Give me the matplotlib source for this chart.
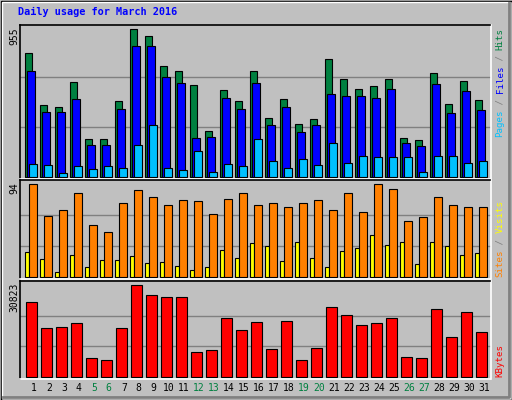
import matplotlib
matplotlib.use("Agg")
import matplotlib.pyplot as plt
from matplotlib.patches import Rectangle

days = list(range(1, 32))
hits = [785,454,441,601,238,238,480,938,893,702,671,581,289,550,480,671,371,492,333,365,747,620,556,575,620,244,231,658,460,607,486]
files = [671,410,410,492,199,199,429,830,830,632,594,244,250,499,429,594,327,441,282,327,524,511,511,499,556,212,193,588,403,543,422]
pages = [79,72,21,66,47,66,53,199,327,53,40,161,28,79,66,238,98,53,110,72,212,85,129,123,123,123,28,129,129,85,98]
visits = [94,62,68,85,53,46,75,88,81,73,78,77,64,79,85,73,75,71,75,78,68,85,66,94,89,57,61,81,73,71,71]
sites = [25,18,5,22,10,17,17,21,14,15,11,7,10,27,19,34,31,16,35,19,10,26,29,42,32,35,13,35,31,22,24]
kbytes = [25088,16313,16650,18000,6188,5513,16313,30823,27450,26775,26775,8213,8888,19688,15638,18338,9225,18675,5513,9563,23400,20700,17325,18000,19688,6525,6188,22725,13275,21713,14963]
weekend = [5,6,12,13,19,20,26,27]
max_hits, max_visits, max_kb = 955, 94, 30823
title = "Daily usage for March 2016"

W, H = 512, 400
BG = "#c0c0c0"
fig = plt.figure(figsize=(W/100, H/100), dpi=100, facecolor=BG)
MONO = "DejaVu Sans Mono"

def ax_px(x0, y0, x1, y1):
    return fig.add_axes([x0/W, 1-y1/H, (x1-x0)/W, (y1-y0)/H])

# outer border
bg = fig.add_axes([0, 0, 1, 1]); bg.set_xlim(0, W); bg.set_ylim(H, 0); bg.axis("off")
bg.add_patch(Rectangle((0.5, 0.5), W-1, H-1, fill=False, ec="black", lw=1))
bg.add_patch(Rectangle((1.5, 1.5), W-4, H-4, fill=False, ec="white", lw=1))
bg.plot([W-3, W-3, 3], [3, H-3, H-3], color="#808080", lw=2)

panels = [(25, 179, 176.7, 150.0), (180, 279, 276.7, 92.3), (281, 379, 376.7, 91.3)]
x0, x1 = 20, 490.5

def make(p, vmax):
    top, bot, base, hgt = p
    ax = ax_px(x0, top, x1, bot)
    ax.set_facecolor(BG)
    scale = vmax / hgt
    ax.set_ylim(-(bot-base)*scale, vmax + (base-hgt-top)*scale)
    ax.set_xlim(x0, x1)
    ax.set_xticks([]); ax.set_yticks([])
    for s in ["left", "top"]:
        ax.spines[s].set_color("black")
    for s in ["right", "bottom"]:
        ax.spines[s].set_color("white")
    for s in ax.spines.values():
        s.set_linewidth(1.2)
    for f in (1/3, 2/3):
        ax.axhline(vmax*f, color="#808080", lw=1, zorder=0)
    return ax

def slot(i):
    return 25.3 + 15*(i-1)

kw = dict(align="edge", edgecolor="black", linewidth=0.8)
a1 = make(panels[0], max_hits)
a1.bar([slot(d) for d in days], hits, width=7, color="#008040", **kw)
a1.bar([slot(d)+2 for d in days], files, width=7.7, color="#0000ff", **kw)
a1.bar([slot(d)+4 for d in days], pages, width=7.3, color="#00c0ff", **kw)

a2 = make(panels[1], max_visits)
a2.bar([slot(d) for d in days], sites, width=4, color="#ffff00", **kw)
a2.bar([slot(d)+4 for d in days], visits, width=7.3, color="#ff8000", **kw)

a3 = make(panels[2], max_kb)
a3.bar([slot(d)+1 for d in days], kbytes, width=10.3, color="#ff0000", **kw)

def ftxt(x, y, s, **k):
    fig.text(x/W, 1-y/H, s, family=MONO, **k)

ftxt(18, 12, title, color="#0000ff", fontsize=7.3, fontweight="bold", va="center", ha="left")

for lab, y in [(str(max_hits), 27), (str(max_visits), 182), (str(max_kb), 283)]:
    ftxt(14, y, lab, rotation=90, fontsize=7, va="top", ha="center", color="black")

for d in days:
    ftxt(slot(d)+8.5, 388, str(d), fontsize=7, ha="center", va="center",
         color="#008040" if d in weekend else "black")

cw = 5.45
def vlabel(ybottom, parts):
    y = ybottom
    for s, c in parts:
        ftxt(500, y, s, rotation=90, fontsize=6.6, color=c, ha="center", va="bottom")
        y -= cw*len(s)

vlabel(137, [("Pages", "#00c0ff"), (" / ", "#808080"), ("Files", "#0000ff"), (" / ", "#808080"), ("Hits", "#008040")])
vlabel(277, [("Sites", "#ff8000"), (" / ", "#808080"), ("Visits", "#ffff00")])
vlabel(377, [("KBytes", "#ff0000")])

fig.savefig("out.png", dpi=100, facecolor=BG)
